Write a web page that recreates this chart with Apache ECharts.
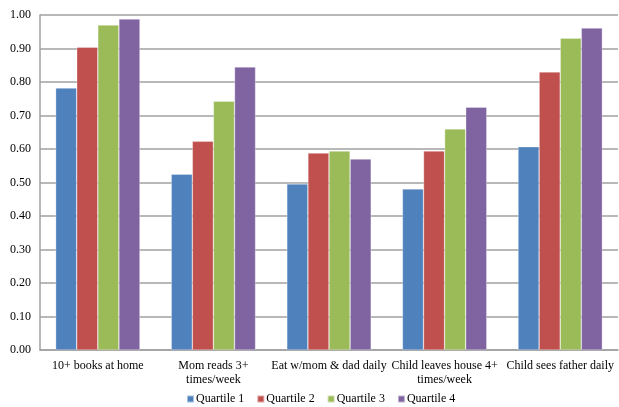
<!DOCTYPE html>
<html><head><meta charset="utf-8">
<script src="https://cdn.jsdelivr.net/npm/echarts@6/dist/echarts.min.js"></script>
<style>html,body{margin:0;padding:0;background:#fff}#c{width:619px;height:407px}</style>
</head><body><div id="c"></div>
<script>
var categories = ["10+ books at home", "Mom reads 3+\ntimes/week", "Eat w/mom & dad daily", "Child leaves house 4+\ntimes/week", "Child sees father daily"];
var quartile1 = [0.782, 0.525, 0.496, 0.481, 0.607];
var quartile2 = [0.904, 0.623, 0.588, 0.594, 0.830];
var quartile3 = [0.970, 0.743, 0.594, 0.660, 0.931];
var quartile4 = [0.988, 0.845, 0.570, 0.725, 0.961];
var seriesNames = ["Quartile 1", "Quartile 2", "Quartile 3", "Quartile 4"];
var colors = ["#4F81BD", "#C0504D", "#9BBB59", "#8064A2"];
var font = "Liberation Serif";
var chart = echarts.init(document.getElementById('c'));
var data = [quartile1, quartile2, quartile3, quartile4];
chart.setOption({
  animation: false,
  textStyle: {fontFamily: font},
  grid: {left: 40, right: 1, top: 15, bottom: 57, containLabel: false},
  legend: {
    bottom: -3, left: 181, itemWidth: 7, itemHeight: 7, itemGap: 12,
    icon: 'rect',
    textStyle: {fontFamily: font, fontSize: 12, color: '#000', padding: [0,0,0,-3]},
    data: seriesNames
  },
  xAxis: {
    type: 'category', data: categories,
    axisLine: {lineStyle: {color: '#A0A0A0', width: 1.5}},
    axisTick: {show: false},
    axisLabel: {interval: 0, fontFamily: font, fontSize: 12, color: '#000', margin: 9, lineHeight: 14}
  },
  yAxis: {
    type: 'value', min: 0, max: 1, interval: 0.1,
    axisLine: {show: true, lineStyle: {color: '#A0A0A0', width: 1.5}},
    axisTick: {show: false},
    splitLine: {lineStyle: {color: '#A0A0A0', width: 1.5}},
    axisLabel: {fontFamily: font, fontSize: 12, color: '#000', margin: 9,
      formatter: function(v){return v.toFixed(2);}}
  },
  series: seriesNames.map(function(n, i){
    return {
      name: n, type: 'bar', data: data[i],
      barGap: '0%', barCategoryGap: '27%',
      itemStyle: {color: colors[i], borderColor: 'rgba(255,255,255,0.5)', borderWidth: 0.6}
    };
  })
});
</script></body></html>
